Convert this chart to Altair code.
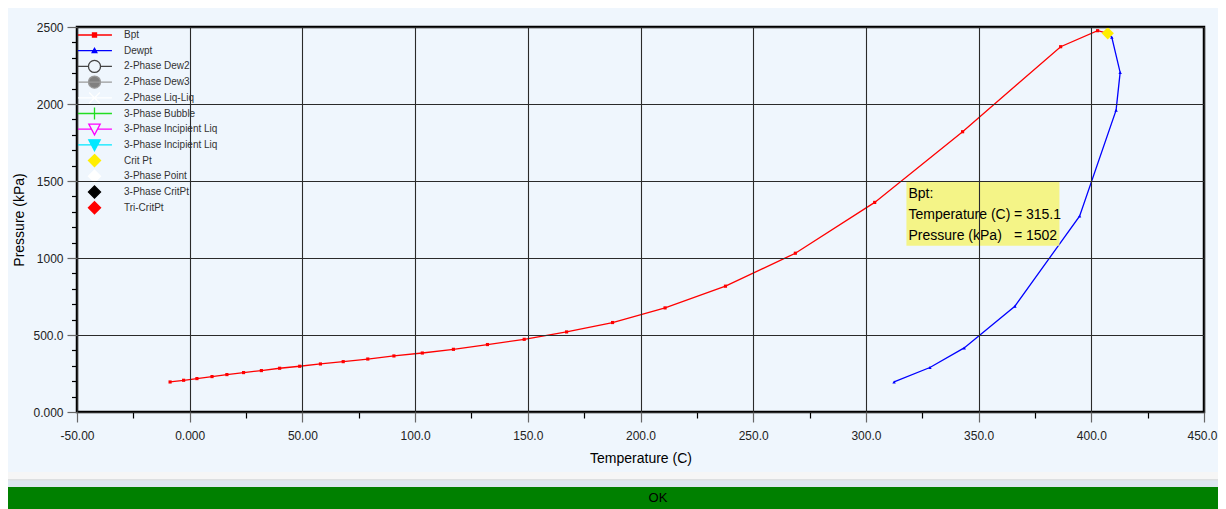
import altair as alt
import pandas as pd

# ---------------- data ----------------
bpt_T = [-8.7, -2.7, 3.2, 9.9, 16.5, 23.9, 31.8, 39.9, 48.8, 58.0, 68.1, 79.0, 90.6,
         103.2, 117.0, 132.1, 148.4, 167.2, 187.6, 210.9, 237.7, 268.7, 303.9,
         342.9, 386.4, 402.8]
bpt_P = [195, 206, 217, 230, 243, 256, 269, 284, 297, 312, 327, 344, 364,
         383, 407, 438, 472, 520, 581, 676, 817, 1031, 1361,
         1820, 2372, 2476]

dew_T = [409.1, 412.8, 411.0, 394.8, 366.1, 343.6, 328.4, 312.5]
dew_P = [2433, 2205, 1960, 1272, 687, 416, 289, 195]

crit_T = 407.3
crit_P = 2459

tip_series = "Bpt"
tip_T = 315.1
tip_P = 1502

x_major = list(range(-50, 451, 50))
x_minor = [v for v in range(-50, 451, 25) if v % 50 != 0]
y_major = list(range(0, 2501, 500))
y_minor = [v for v in range(0, 2501, 100) if v % 500 != 0]

legend_names = ["Bpt", "Dewpt", "2-Phase Dew2", "2-Phase Dew3", "2-Phase Liq-Liq",
                "3-Phase Bubble", "3-Phase Incipient Liq", "3-Phase Incipient Liq ",
                "Crit Pt", "3-Phase Point", "3-Phase CritPt", "Tri-CritPt"]
legend_stroke = ["#ff0000", "#0000ff", "#444444", "#9a9a9a", "#ffffff", "#22dd22",
                 "#ff00ff", "#00e8ff", "#ffee00", "#ffffff", "#000000", "#ff0000"]
legend_fill = ["#ff0000", "#0000ff", "transparent", "#808080", "transparent", "transparent",
               "transparent", "#00e8ff", "#ffee00", "#ffffff", "#000000", "#ff0000"]

# ---------------- legend glyphs (line + marker) ----------------
LINE = "M-2.6,0H2.6"
CIRC = "M0.9,0A0.9,0.9,0,1,1,-0.9,0A0.9,0.9,0,1,1,0.9,0Z"
DTRI = "M-0.85,-0.75H0.85L0,0.85Z"
DIAM = "M0,-0.9L0.9,0L0,0.9L-0.9,0Z"
legend_paths = [
    LINE + "M-0.3,-0.3H0.3V0.3H-0.3Z",
    LINE + "M0,-0.35L0.35,0.28L-0.35,0.28Z",
    "M-2.6,0H-0.9M0.9,0H2.6" + CIRC,
    LINE + CIRC,
    LINE + "M-0.8,-0.8L0.8,0.8M-0.8,0.8L0.8,-0.8",
    LINE + "M0,-0.9V0.9",
    "M-2.6,0H-0.45M0.45,0H2.6" + DTRI,
    LINE + DTRI,
    DIAM, DIAM, DIAM, DIAM,
]

# ---------------- tables ----------------
bpt_df = pd.DataFrame({"T": bpt_T + [crit_T], "P": bpt_P + [crit_P]})
bpt_df["i"] = range(len(bpt_df))
dew_df = pd.DataFrame({"T": [crit_T] + dew_T, "P": [crit_P] + dew_P})
dew_df["i"] = range(len(dew_df))
crit_df = pd.DataFrame({"T": [crit_T], "P": [crit_P]})
tip_df = pd.DataFrame({
    "T": [tip_T], "P": [tip_P],
    "left": [f"{tip_series}:\nTemperature (C)\nPressure (kPa)"],
    "right": [f"\n= {tip_T}\n= {tip_P}"],
})
leg_df = pd.DataFrame({"series": legend_names})
one = pd.DataFrame({"a": [0]})

xs = alt.Scale(domain=[-50, 450], nice=False, zero=False)
ys = alt.Scale(domain=[0, 2500], nice=False, zero=False)

x_lab = ("replace(datum.value == 0 ? '0.000' : (abs(datum.value) < 100 ? "
         "format(datum.value, '.2f') : format(datum.value, '.1f')), '\u2212', '-')")
y_lab = ("datum.value == 0 ? '0.000' : (datum.value < 1000 ? "
         "format(datum.value, '.1f') : format(datum.value, 'd'))")

x_axis_main = alt.Axis(values=x_major, grid=True, gridColor="#2a2a2a", gridWidth=1.1,
                       tickSize=10, tickColor="#666666", tickWidth=1.2, domain=False,
                       labelExpr=x_lab, labelPadding=8, labelFlush=False, labelOverlap=False,
                       labelOffset={"condition": {"test": "datum.value == 450", "value": -2},
                                    "value": 0},
                       title="Temperature (C)", titlePadding=10, orient="bottom", zindex=1)
y_axis_main = alt.Axis(values=y_major, grid=True, gridColor="#2a2a2a", gridWidth=1.1,
                       tickSize=10, tickColor="#666666", tickWidth=1.2, domain=False,
                       labelExpr=y_lab, labelPadding=4, labelFlush=False, labelOverlap=False,
                       title="Pressure (kPa)", titlePadding=6, orient="left", zindex=1)
x_axis_minor = alt.Axis(values=x_minor, grid=False, tickSize=6, tickColor="#000000",
                        tickWidth=1.2, labels=False, domain=False, title=None, orient="bottom")
y_axis_minor = alt.Axis(values=y_minor, grid=False, tickSize=5.5, tickColor="#000000",
                        tickWidth=1.2, labels=False, domain=False, title=None, orient="left")

def X(axis=None):
    return alt.X("T:Q", scale=xs, axis=axis)

def Y(axis=None):
    return alt.Y("P:Q", scale=ys, axis=axis)

bpt_line = alt.Chart(bpt_df).mark_line(color="#ff0000", strokeWidth=1.3).encode(
    x=X(x_axis_main), y=Y(y_axis_main), order="i:Q")
bpt_pts = alt.Chart(bpt_df).mark_point(shape="square", size=10, filled=True,
                                       color="#ff0000", opacity=1).encode(x=X(), y=Y())
dew_line = alt.Chart(dew_df).mark_line(color="#0000ff", strokeWidth=1.3).encode(
    x=X(), y=Y(), order="i:Q")
dew_pts = alt.Chart(dew_df).mark_point(shape="triangle-up", size=12, filled=True,
                                       color="#0000ff", opacity=1).encode(x=X(), y=Y())
crit = alt.Chart(crit_df).mark_point(shape="diamond", size=150, filled=True,
                                     color="#ffee00", opacity=1).encode(x=X(), y=Y())
minor = alt.Chart(bpt_df).mark_point(opacity=0).encode(x=X(x_axis_minor), y=Y(y_axis_minor))

tip_box = alt.Chart(tip_df).mark_rect(color="#f4f47a", opacity=0.9, xOffset=6.5,
                                      x2Offset=159.5, yOffset=1, y2Offset=65).encode(
    x=X(), x2="T:Q", y=Y(), y2="P:Q")
tip_left = alt.Chart(tip_df).mark_text(align="left", baseline="middle", lineBreak="\n",
                                       lineHeight=21, dx=8.5, dy=13, font="Liberation Sans",
                                       fontSize=14, color="#000000").encode(
    x=X(), y=Y(), text="left:N")
tip_right = alt.Chart(tip_df).mark_text(align="left", baseline="middle", lineBreak="\n",
                                        lineHeight=21, dx=114, dy=13, font="Liberation Sans",
                                        fontSize=14, color="#000000").encode(
    x=X(), y=Y(), text="right:N")

# legend drawn as marks: one row per series on its own point scale
leg_y = alt.Y("series:N", axis=None,
              scale=alt.Scale(type="point", domain=legend_names, range=[8, 180.7], padding=0))
leg_sym = alt.Chart(leg_df).mark_point(size=180, strokeWidth=1.3, opacity=1).encode(
    y=leg_y, x=alt.value(17.5),
    shape=alt.Shape("series:N", scale=alt.Scale(domain=legend_names, range=legend_paths), legend=None),
    stroke=alt.Stroke("series:N", scale=alt.Scale(domain=legend_names, range=legend_stroke), legend=None),
    fill=alt.Fill("series:N", scale=alt.Scale(domain=legend_names, range=legend_fill), legend=None),
)
leg_txt = alt.Chart(leg_df).mark_text(align="left", baseline="middle", font="Liberation Sans",
                                      fontSize=10, color="#333333").encode(
    y=leg_y, x=alt.value(47), text="series:N")

# window chrome below the plot panel (OK button bar)
sep1 = alt.Chart(one).mark_rect(color="#f6f6f6").encode(
    x=alt.value(-69), x2=alt.value(1141), y=alt.value(445), y2=alt.value(452.5))
sep2 = alt.Chart(one).mark_rect(color="#c8c8c8").encode(
    x=alt.value(-69), x2=alt.value(1141), y=alt.value(452.5), y2=alt.value(453.5))
sep3 = alt.Chart(one).mark_rect(color="#dde7f1").encode(
    x=alt.value(-69), x2=alt.value(1141), y=alt.value(453.5), y2=alt.value(460))
ok_bar = alt.Chart(one).mark_rect(color="#008000").encode(
    x=alt.value(-69), x2=alt.value(1141), y=alt.value(460), y2=alt.value(482))
ok_text = alt.Chart(one).mark_text(text="OK", font="Liberation Sans", fontSize=13,
                                   color="#000000", baseline="middle").encode(
    x=alt.value(581), y=alt.value(471))

chart = alt.layer(
    bpt_line, minor, bpt_pts, dew_line, dew_pts, crit, tip_box, tip_left, tip_right,
    leg_sym, leg_txt, sep1, sep2, sep3, ok_bar, ok_text,
).resolve_scale(y="independent").resolve_axis(x="independent", y="independent").properties(
    width=1127, height=385,
    autosize=alt.AutoSizeParams(type="none"),
    padding={"left": 69, "top": 19, "right": 14, "bottom": 97},
    background="#eff6fd",
).configure_view(stroke="#000000", strokeWidth=2.5).configure_axis(
    labelFont="Liberation Sans", labelFontSize=12, labelColor="#222222",
    titleFont="Liberation Sans", titleFontSize=14, titleFontWeight="normal",
    titleColor="#000000",
)

chart.save("out.html", embed_options={"renderer": "svg", "actions": False})
